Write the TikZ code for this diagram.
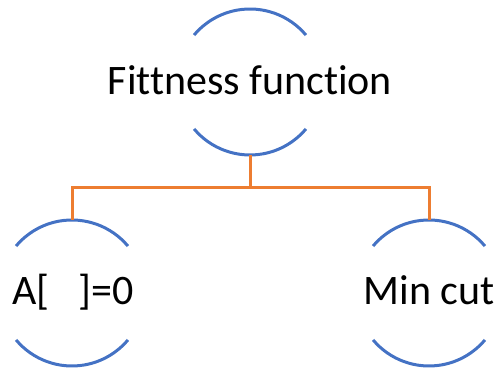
\documentclass[tikz,border=0pt]{standalone}
\usepackage{fontspec}
\setmainfont{Carlito}[Ligatures=NoCommon]
\definecolor{arcblue}{HTML}{4472C4}
\definecolor{linkorange}{HTML}{ED7D31}
\begin{document}
\begin{tikzpicture}[x=1pt,y=1pt,
  ring/.style={circle,minimum size=146pt,inner sep=0pt,draw=none},
  arcline/.style={draw=arcblue,line width=3pt},
  link/.style={draw=linkorange,line width=3pt},
  txt/.style={font=\fontsize{42}{50}\selectfont,anchor=base,inner sep=0pt}]
\useasboundingbox (0,0) rectangle (500,371);
\node[ring] (top) at (250,289) {};
\node[ring] (left) at (72,78) {};
\node[ring] (right) at (429,78) {};
\node[txt] (toptext) at (250,276) {Fittness function};
\node[txt] (lefttext) at (73,66) {A[\ \ \ ]=0};
\node[txt] (righttext) at (429,66) {Min cut};
\foreach \n in {top,left,right} {
  \draw[arcline] ([shift={(40:73)}]\n.center) arc[start angle=40,end angle=140,radius=73];
  \draw[arcline] ([shift={(220:73)}]\n.center) arc[start angle=220,end angle=320,radius=73];
}
\coordinate (bus) at (250,183);
\draw[link] (top.south) -- (bus);
\draw[link] (bus) -| (left.north);
\draw[link] (bus) -| (right.north);
\end{tikzpicture}
\end{document}
